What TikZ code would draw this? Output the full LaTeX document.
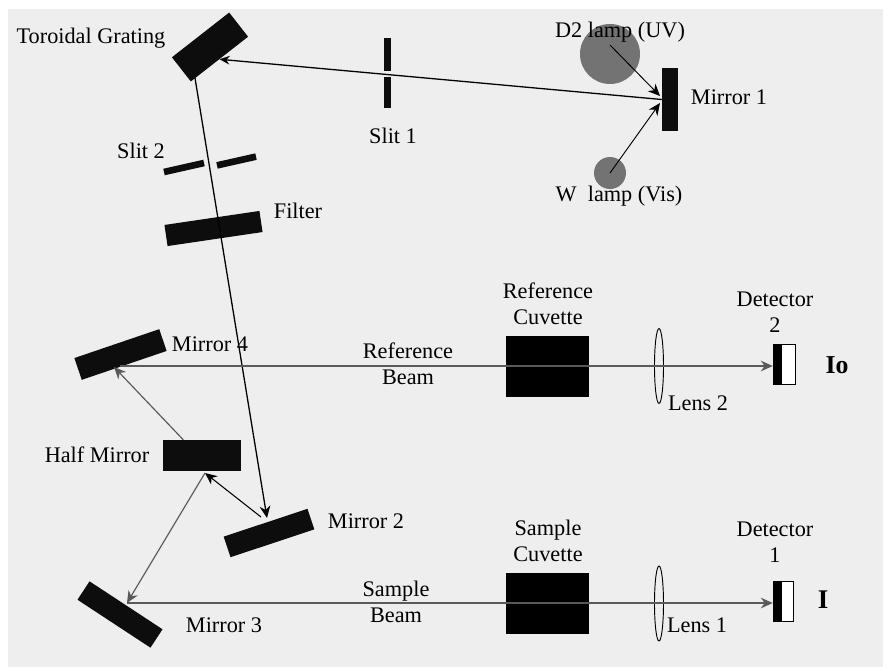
\documentclass[tikz,border=0pt]{standalone}
\usepackage{fontspec}
\setmainfont{Liberation Serif}
\usepackage{xcolor}
\usetikzlibrary{arrows.meta,shapes.geometric}
\definecolor{panel}{HTML}{EEEEEE}
\definecolor{lampgray}{HTML}{737373}
\definecolor{beamgray}{HTML}{5A5A5A}
\definecolor{mirrorblack}{HTML}{0D0D0D}

\begin{document}
\begin{tikzpicture}[x=0.03cm, y=-0.03cm,
  mirror/.style={fill=mirrorblack, inner sep=0pt},
  lamp/.style={circle, fill=lampgray, inner sep=0pt},
  lens/.style={ellipse, draw=black, line width=0.8pt, inner sep=0pt, minimum width=0.27cm, minimum height=2.25cm},
  lbl/.style={font=\fontsize{19}{22}\selectfont, inner sep=0pt, align=center},
  beam/.style={black, line width=1.1pt},
  grayray/.style={beamgray, line width=1pt},
  tip/.style={-{Stealth[length=3.6mm,width=3.2mm]}}]
\useasboundingbox (0,0) rectangle (883,667);
\fill[white] (0,0) rectangle (883,667);
\fill[panel] (8,9) rectangle (883,667);
% Lamps
\node[lamp, minimum size=1.8cm] (dlamp) at (610,54) {};
\node[lamp, minimum size=0.96cm] (wlamp) at (610,173) {};
% Mirrors and grating
\node[mirror, minimum width=2.18cm, minimum height=0.92cm, rotate=38] (grating) at (210,47) {};
\node[mirror, minimum width=0.48cm, minimum height=1.89cm] (mirrorone) at (670,99.5) {};
\node[mirror, minimum width=2.65cm, minimum height=0.65cm, rotate=18.4] (mirrortwo) at (269,533) {};
\node[mirror, minimum width=2.62cm, minimum height=0.66cm, rotate=-33.3] (mirrorthree) at (120,614.5) {};
\node[mirror, minimum width=2.69cm, minimum height=0.69cm, rotate=18.8] (mirrorfour) at (120.5,354.5) {};
\node[mirror, minimum width=2.34cm, minimum height=0.93cm] (halfmirror) at (202,455.5) {};
% Slits and filter
\node[mirror, minimum width=0.21cm, minimum height=0.99cm] (slitonea) at (387.5,54.5) {};
\node[mirror, minimum width=0.21cm, minimum height=0.93cm] (slitoneb) at (387.5,92.5) {};
\node[mirror, minimum width=1.23cm, minimum height=0.2cm, rotate=12.7] (slittwoa) at (184,167.5) {};
\node[mirror, minimum width=1.2cm, minimum height=0.2cm, rotate=12.7] (slittwob) at (236.5,161) {};
\node[mirror, minimum width=2.88cm, minimum height=0.64cm, rotate=8.4] (filter) at (213.5,228.5) {};
% Cuvettes
\node[fill=black, inner sep=0pt, minimum width=2.49cm, minimum height=1.83cm] (refcuvette) at (547.5,366.5) {};
\node[fill=black, inner sep=0pt, minimum width=2.49cm, minimum height=1.83cm] (samplecuvette) at (547.5,603.5) {};
% Lenses
\node[lens] (lenstwo) at (659,366) {};
\node[lens] (lensone) at (659,603.5) {};
% Detectors
\node[draw=black, fill=white, line width=0.8pt, inner sep=0pt, minimum width=0.66cm, minimum height=1.2cm] (dettwo) at (784,364) {};
\node[fill=black, inner sep=0pt, minimum width=0.27cm, minimum height=1.2cm] (dettwoface) at (777.5,364) {};
\node[draw=black, fill=white, line width=0.8pt, inner sep=0pt, minimum width=0.6cm, minimum height=1.2cm] (detone) at (783,601) {};
\node[fill=black, inner sep=0pt, minimum width=0.27cm, minimum height=1.2cm] (detoneface) at (777.5,601) {};
% Labels
\node[lbl] (lgrating) at (91,38) {Toroidal Grating};
\node[lbl] (lslitone) at (393,136) {Slit 1};
\node[lbl] (lslittwo) at (141,151) {Slit 2};
\node[lbl] (lfilter) at (298,211) {Filter};
\node[lbl] (ldlamp) at (620,32) {D2 lamp (UV)};
\node[lbl] (lwlamp) at (619,196) {W\ \ lamp (Vis)};
\node[lbl] (lmirrorone) at (729,97) {Mirror 1};
\node[lbl] (lmirrortwo) at (366,521) {Mirror 2};
\node[lbl] (lmirrorthree) at (224,625) {Mirror 3};
\node[lbl] (lmirrorfour) at (210,344) {Mirror 4};
\node[lbl] (lhalf) at (97,455) {Half Mirror};
\node[lbl] (lrefbeam) at (408,364) {Reference\\Beam};
\node[lbl] (lsamplebeam) at (396,602) {Sample\\Beam};
\node[lbl] (lrefcuvette) at (548,304) {Reference\\Cuvette};
\node[lbl] (lsamplecuvette) at (548,541) {Sample\\Cuvette};
\node[lbl] (llenstwo) at (698,403) {Lens 2};
\node[lbl] (llensone) at (697,625) {Lens 1};
\node[lbl] (ldettwo) at (775,312) {Detector\\2};
\node[lbl] (ldetone) at (775,542) {Detector\\1};
\node[lbl, font=\fontsize{22}{24}\selectfont\bfseries] (lio) at (837,365) {Io};
\node[lbl, font=\fontsize{23}{24}\selectfont\bfseries] (li) at (823,600) {I};
% Ray ends
\coordinate (dstart) at (610,45);
\coordinate (dhit) at (660,96);
\coordinate (whit) at (660,103);
\coordinate (gratingout) at (195,78);
\coordinate (twohit) at (267,518);
\coordinate (twoout) at (261,517);
\coordinate (halfhit) at (205,473);
\coordinate (fourhit) at (114,367);
\coordinate (threehit) at (127,603);
\coordinate (refstart) at (120,366);
% Rays
\draw[beam, -{Stealth[length=3mm,width=2.6mm]}] (mirrorone.west) -- (grating.south);
\draw[black, line width=0.8pt, tip] (dstart) -- (dhit);
\draw[black, line width=0.8pt, tip] (wlamp.center) -- (whit);
\draw[beam, tip] (gratingout) -- (twohit);
\draw[beam, line width=0.9pt, tip] (twoout) -- (halfhit);
\draw[grayray, tip] (halfmirror.140) -- (fourhit);
\draw[grayray, tip] (halfhit) -- (threehit);
\draw[grayray, tip] (refstart) -- (refstart -| dettwoface.west);
\draw[grayray, tip] (threehit) -- (threehit -| detoneface.west);
\end{tikzpicture}
\end{document}
